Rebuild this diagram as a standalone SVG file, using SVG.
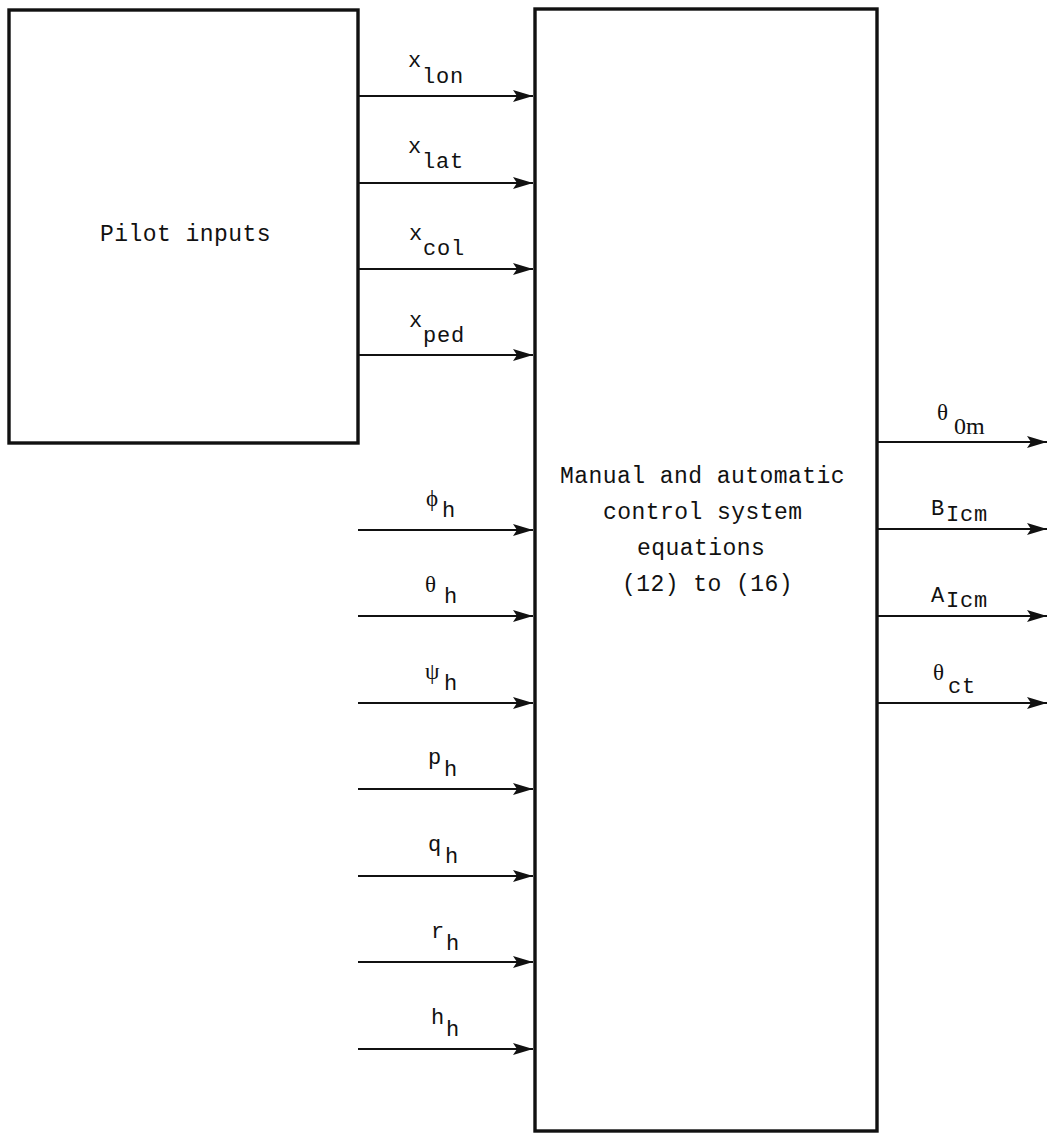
<svg xmlns="http://www.w3.org/2000/svg" width="1048" height="1134" viewBox="0 0 1048 1134">
<style>
.box{fill:none;stroke:#111;stroke-width:3.4}
.ln{stroke:#111;stroke-width:2.2;fill:none;marker-end:url(#ah)}
.t{font-family:"Liberation Mono","DejaVu Sans Mono",monospace;font-size:23px;letter-spacing:0.45px;fill:#111}
.l{font-family:"Liberation Mono","DejaVu Sans Mono",monospace;font-size:22px;letter-spacing:0.8px;fill:#111}
.g{font-family:"Liberation Serif","DejaVu Serif",serif;font-size:23px;fill:#111}
.z{font-family:"Liberation Serif","DejaVu Serif",serif;font-size:24px;fill:#111}
</style>
<defs>
<marker id="ah" viewBox="0 0 20 12" refX="20" refY="6" markerWidth="20" markerHeight="12" markerUnits="userSpaceOnUse" orient="auto">
<path d="M0,0 L20,6 L0,12 L4,6 Z" fill="#111"/>
</marker>
</defs>
<rect width="1048" height="1134" fill="#fff"/>
<g id="pilot">
<rect class="box" x="9" y="10" width="349" height="433"/>
<text class="t" x="100" y="241">Pilot inputs</text>
</g>
<g id="control">
<rect class="box" x="535" y="9" width="342" height="1122"/>
<text class="t" x="560" y="483">Manual and automatic</text>
<text class="t" x="603" y="519">control system</text>
<text class="t" x="637" y="555">equations</text>
<text class="t" x="622" y="591">(12) to (16)</text>
</g>
<g id="connectors">
<line class="ln" x1="358" y1="96" x2="533" y2="96"/>
<line class="ln" x1="358" y1="183" x2="533" y2="183"/>
<line class="ln" x1="358" y1="269" x2="533" y2="269"/>
<line class="ln" x1="358" y1="355" x2="533" y2="355"/>
<line class="ln" x1="358" y1="530" x2="533" y2="530"/>
<line class="ln" x1="358" y1="616" x2="533" y2="616"/>
<line class="ln" x1="358" y1="703" x2="533" y2="703"/>
<line class="ln" x1="358" y1="789" x2="533" y2="789"/>
<line class="ln" x1="358" y1="876" x2="533" y2="876"/>
<line class="ln" x1="358" y1="962" x2="533" y2="962"/>
<line class="ln" x1="358" y1="1049" x2="533" y2="1049"/>
<line class="ln" x1="877" y1="442" x2="1047" y2="442"/>
<line class="ln" x1="877" y1="529" x2="1047" y2="529"/>
<line class="ln" x1="877" y1="616" x2="1047" y2="616"/>
<line class="ln" x1="877" y1="703" x2="1047" y2="703"/>
</g>
<g id="labels">
<text class="l" x="408" y="67">x</text><text class="l" x="422" y="83">lon</text>
<text class="l" x="408" y="153">x</text><text class="l" x="422" y="168">lat</text>
<text class="l" x="409" y="240">x</text><text class="l" x="423" y="255">col</text>
<text class="l" x="409" y="327">x</text><text class="l" x="423" y="342">ped</text>
<text class="g" x="426" y="506">ϕ</text><text class="l" x="442" y="517">h</text>
<text class="g" x="425" y="592">θ</text><text class="l" x="444" y="603">h</text>
<text class="g" x="425" y="679">ψ</text><text class="l" x="444" y="690">h</text>
<text class="l" x="428" y="764">p</text><text class="l" x="444" y="776">h</text>
<text class="l" x="428" y="851">q</text><text class="l" x="445" y="863">h</text>
<text class="l" x="431" y="938">r</text><text class="l" x="446" y="950">h</text>
<text class="l" x="431" y="1024">h</text><text class="l" x="446" y="1036">h</text>
<text class="g" x="937" y="420">θ</text><text class="z" x="954" y="434">0m</text>
<text class="l" x="931" y="515">B</text><text class="l" x="946" y="521">Icm</text>
<text class="l" x="931" y="602">A</text><text class="l" x="946" y="607">Icm</text>
<text class="g" x="933" y="680">θ</text><text class="l" x="948" y="693">ct</text>
</g>
</svg>
